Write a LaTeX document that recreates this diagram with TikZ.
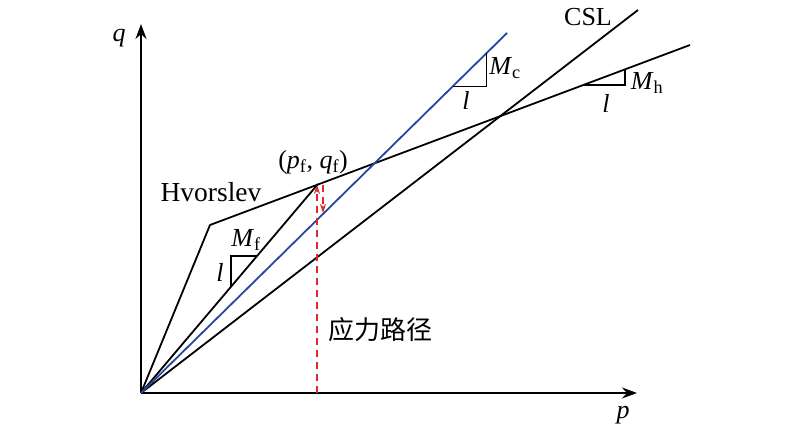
\documentclass[tikz,border=0pt]{standalone}
\usepackage{fontspec}
\setmainfont{Liberation Serif}
\newfontfamily\cjk{Noto Sans CJK SC}
\usetikzlibrary{arrows.meta}
\definecolor{myred}{RGB}{222,40,45}
\definecolor{myblue}{RGB}{40,70,160}
\begin{document}
\begin{tikzpicture}[x=1pt,y=1pt,
  ln/.style={line width=1.8pt,line join=round},
  tri/.style={line width=1.4pt},
  lbl/.style={inner sep=0pt,font=\fontsize{26}{30}\selectfont},
  axarrow/.style={-{Stealth[length=15pt,width=11pt]}},
  redarrow/.style={myred,line width=1.5pt,dash pattern=on 7pt off 5pt,-{Stealth[length=9pt,width=6pt]}}]
\useasboundingbox (0,0) rectangle (800,434);
% key points
\coordinate (O) at (141,41);
\coordinate (Ytip) at (141,410);
\coordinate (Xtip) at (637,41);
\coordinate (K) at (210,209);
\coordinate (F) at (318,250);
\coordinate (H) at (690,389);
\coordinate (B) at (507,401);
\coordinate (C) at (638,424);
\coordinate (R0) at (317,41);
\coordinate (R1) at (317,249);
\coordinate (S0) at (323,249);
\coordinate (S1) at (323,221);
% axes
\draw[ln,axarrow] (O) -- (Ytip);
\draw[ln,axarrow] (O) -- (Xtip);
% lines
\draw[ln] (O) -- (K) -- (H);
\draw[ln] (O) -- (F);
\draw[ln] (O) -- (C);
\draw[ln,myblue] (O) -- (B);
% red stress path
\draw[redarrow] (R0) -- (R1);
\draw[redarrow] (S0) -- (S1);
% slope triangles
\coordinate (fa) at (231,147.3);
\coordinate (fb) at (231,178);
\coordinate (fc) at (257,178);
\draw[tri] (fa) -- (fb) -- (fc);
\coordinate (ca) at (453,347.3);
\coordinate (cb) at (486.7,347.3);
\coordinate (cc) at (486.7,381);
\draw[tri] (ca) -- (cb) -- (cc);
\coordinate (ha) at (583,348.9);
\coordinate (hb) at (625,348.9);
\coordinate (hc) at (625,364.6);
\draw[tri] (ha) -- (hb) -- (hc);
% labels
\node[lbl] (lq) at (119,396) {\itshape q};
\node[lbl] (lp) at (623,19) {\itshape p};
\node[lbl] (lcsl) at (588,417) {CSL};
\node[lbl,font=\fontsize{27.5}{30}\selectfont] (lhv) at (211,242) {Hvorslev};
\node[lbl] (lpf) at (313,272) {(\textit{p}\textsubscript{f}, \textit{q}\textsubscript{f})};
\node[lbl] (lmf) at (246,194) {\textit{M}\textsubscript{f}};
\node[lbl] (llf) at (220,162) {\textit{l}};
\node[lbl] (lmc) at (505,366) {\textit{M}\textsubscript{c}};
\node[lbl] (llc) at (466,334) {\textit{l}};
\node[lbl] (lmh) at (647,351) {\textit{M}\textsubscript{h}};
\node[lbl] (llh) at (606,331) {\textit{l}};
\node[lbl,font=\cjk\fontsize{26}{30}\selectfont] (lpath) at (380,104) {应力路径};
\end{tikzpicture}
\end{document}
